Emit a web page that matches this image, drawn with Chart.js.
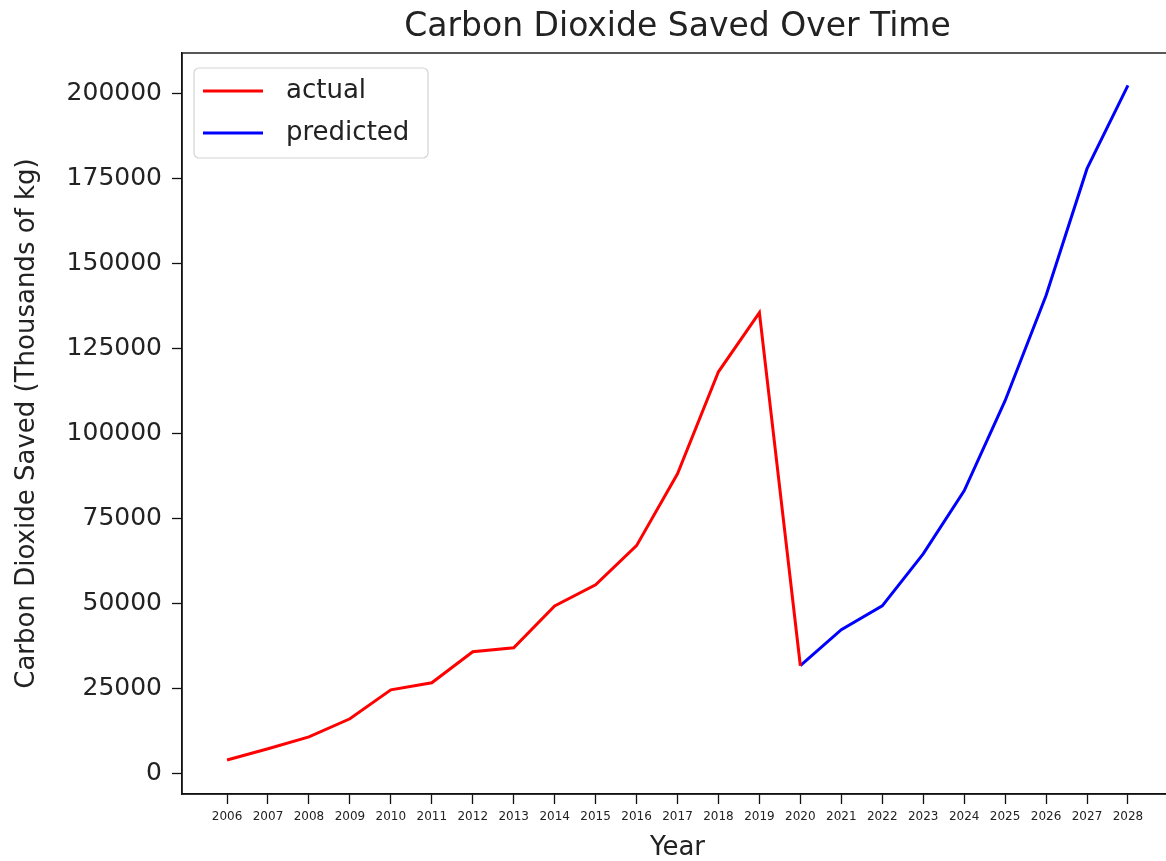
<!DOCTYPE html>
<html>
<head>
<meta charset="utf-8">
<title>Carbon Dioxide Saved Over Time</title>
<script src="https://cdn.jsdelivr.net/npm/chart.js@4/dist/chart.umd.min.js"></script>
<style>
    html, body { margin: 0; padding: 0; background: #fff; overflow: hidden; }
    #wrap { width: 1185px; height: 861px; }
</style>
</head>
<body>
<div id="wrap"><canvas id="co2Chart" width="1185" height="861"></canvas></div>
<script>
// yearly totals, thousands of kg
const actualYears = [2006, 2007, 2008, 2009, 2010, 2011, 2012, 2013, 2014, 2015, 2016, 2017, 2018, 2019, 2020];
const actualValues = [4100, 7400, 10900, 16200, 24700, 26800, 35900, 37100, 49400, 55600, 67100, 88200, 118200, 135600, 31800];
const predictedYears = [2020, 2021, 2022, 2023, 2024, 2025, 2026, 2027, 2028];
const predictedValues = [31800, 42400, 49400, 64700, 83200, 109700, 140600, 177900, 202400];

const yearTicks = [2006, 2007, 2008, 2009, 2010, 2011, 2012, 2013, 2014, 2015, 2016, 2017,
                   2018, 2019, 2020, 2021, 2022, 2023, 2024, 2025, 2026, 2027, 2028];
const valueTicks = [0, 25000, 50000, 75000, 100000, 125000, 150000, 175000, 200000];

const chartTitle = 'Carbon Dioxide Saved Over Time';

const FONT = "'DejaVu Sans', sans-serif";
const TEXT = '#222';

function toPoints(xs, ys) {
    return xs.map((x, i) => ({ x: x, y: ys[i] }));
}

// title centred over the plot area, frame around it and a legend in the top-left corner
const framePlugin = {
    id: 'frame',
    afterDatasetsDraw(chart) {
        const { ctx, chartArea } = chart;
        ctx.save();

        ctx.font = '33px ' + FONT;
        ctx.fillStyle = TEXT;
        ctx.textAlign = 'center';
        ctx.textBaseline = 'middle';
        ctx.fillText(chartTitle, (chartArea.left + chartArea.right) / 2, 27);

        ctx.strokeStyle = '#111';
        ctx.lineWidth = 1.4;
        ctx.strokeRect(chartArea.left, chartArea.top, chartArea.right - chartArea.left, chartArea.bottom - chartArea.top);

        const bx = chartArea.left + 12, by = chartArea.top + 15, bw = 234, bh = 90;
        ctx.beginPath();
        ctx.roundRect(bx, by, bw, bh, 5);
        ctx.fillStyle = 'rgba(255,255,255,0.85)';
        ctx.fill();
        ctx.strokeStyle = '#d4d4d4';
        ctx.lineWidth = 1.2;
        ctx.stroke();

        ctx.font = '26px ' + FONT;
        ctx.textAlign = 'left';
        chart.data.datasets.forEach((ds, i) => {
            const ly = by + 23 + i * 42;
            ctx.strokeStyle = ds.borderColor;
            ctx.lineWidth = 3;
            ctx.beginPath();
            ctx.moveTo(bx + 9, ly);
            ctx.lineTo(bx + 69, ly);
            ctx.stroke();
            ctx.fillStyle = TEXT;
            ctx.fillText(ds.label, bx + 92, ly);
        });
        ctx.restore();
    }
};

const ctx = document.getElementById('co2Chart').getContext('2d');
new Chart(ctx, {
    type: 'line',
    data: {
        datasets: [{
            label: 'actual',
            data: toPoints(actualYears, actualValues),
            borderColor: '#ff0000',
            borderWidth: 3,
            pointRadius: 0,
            tension: 0
        }, {
            label: 'predicted',
            data: toPoints(predictedYears, predictedValues),
            borderColor: '#0000ff',
            borderWidth: 3,
            pointRadius: 0,
            tension: 0
        }]
    },
    options: {
        responsive: false,
        animation: false,
        layout: { padding: { top: 53, right: 12, bottom: 0, left: 0 } },
        plugins: {
            legend: { display: false },
            tooltip: { enabled: false },
            title: { display: false }
        },
        scales: {
            x: {
                type: 'linear',
                min: 2004.9,
                max: 2029.1,
                afterBuildTicks: scale => { scale.ticks = yearTicks.map(v => ({ value: v })); },
                afterFit: scale => { scale.height = 67; },
                grid: { drawOnChartArea: false, tickLength: 10, tickColor: '#111', tickWidth: 1.3 },
                border: { color: '#111', width: 1.4 },
                ticks: {
                    callback: v => String(v),
                    color: TEXT,
                    font: { family: FONT, size: 12 },
                    padding: 6,
                    maxRotation: 0,
                    autoSkip: false
                },
                title: {
                    display: true,
                    text: 'Year',
                    color: TEXT,
                    font: { family: FONT, size: 26, lineHeight: 1 },
                    padding: 0
                }
            },
            y: {
                min: -5900,
                max: 211900,
                afterBuildTicks: scale => { scale.ticks = valueTicks.map(v => ({ value: v })); },
                afterFit: scale => { scale.width = 182; },
                grid: { drawOnChartArea: false, tickLength: 10, tickColor: '#111', tickWidth: 1.3 },
                border: { color: '#111', width: 1.4 },
                ticks: {
                    callback: v => String(v),
                    color: TEXT,
                    font: { family: FONT, size: 25 },
                    padding: 10
                },
                title: {
                    display: true,
                    text: 'Carbon Dioxide Saved (Thousands of kg)',
                    color: TEXT,
                    font: { family: FONT, size: 26, lineHeight: 1.2 },
                    padding: { top: 12, bottom: 0 }
                }
            }
        }
    },
    plugins: [framePlugin]
});
</script>
</body>
</html>
